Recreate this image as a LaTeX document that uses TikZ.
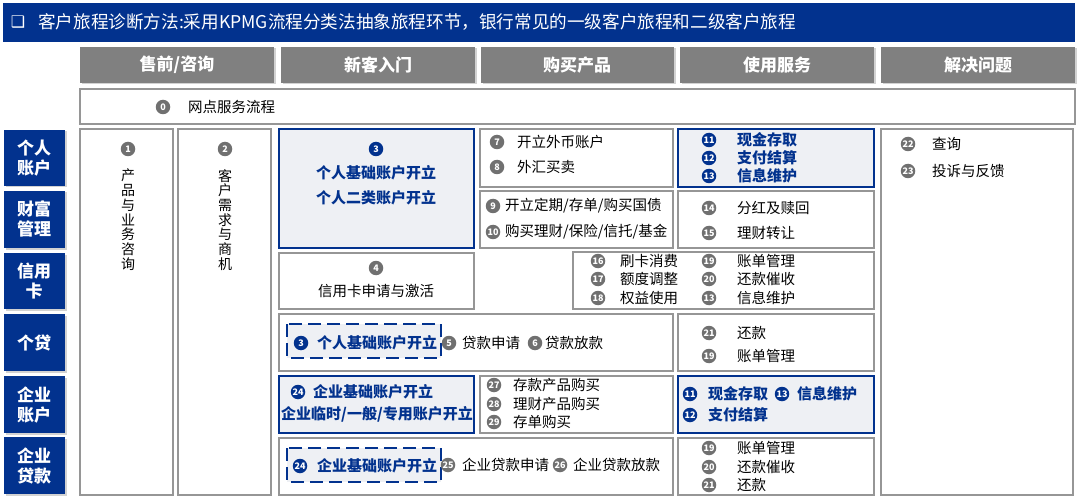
\documentclass[tikz,border=0pt]{standalone}
\usepackage{fontspec}
\setmainfont{Noto Sans CJK SC}
\newfontfamily\dejavu{DejaVu Sans}
\usetikzlibrary{shadows}
\definecolor{navy}{RGB}{2,50,142}
\definecolor{hdrgray}{RGB}{128,128,128}
\definecolor{bordgray}{RGB}{150,150,150}
\definecolor{cgray}{RGB}{112,112,112}
\definecolor{lightfill}{RGB}{238,240,244}
\newcommand{\cnode}[5]{\node[cnst, fill=#2] (#1) at (#4,#5) {#3};}
\begin{document}
\begin{tikzpicture}[x=1pt,y=-1pt,
  graybox/.style={draw=bordgray, line width=1.8pt, fill=white},
  navybox/.style={draw=navy, line width=2.6pt, fill=lightfill},
  dashbox/.style={draw=navy, line width=2.6pt, dash pattern=on 13pt off 6pt, fill=lightfill},
  hdrbox/.style={fill=hdrgray, drop shadow={shadow xshift=1.5pt, shadow yshift=-1.5pt, opacity=0.35}},
  lblbox/.style={fill=navy, drop shadow={shadow xshift=1.5pt, shadow yshift=-1.5pt, opacity=0.35}},
  hdrtxt/.style={text=white, font=\fontsize{17}{19}\selectfont\bfseries, inner sep=0pt},
  lbltxt/.style={text=white, font=\fontsize{17}{20}\selectfont\bfseries, align=center, inner sep=0pt},
  txt/.style={anchor=west, font=\fontsize{14.5}{16}\selectfont, inner sep=0pt},
  ctxt/.style={font=\fontsize{14.5}{16}\selectfont, inner sep=0pt},
  btxt/.style={anchor=west, text=navy, font=\fontsize{15}{17}\selectfont\bfseries, inner sep=0pt},
  cbtxt/.style={text=navy, font=\fontsize{15}{17}\selectfont\bfseries, inner sep=0pt},
  vtxt/.style={anchor=north, font=\fontsize{14}{14.7}\selectfont, align=center, inner sep=0pt},
  cnst/.style={circle, inner sep=0pt, minimum size=14.5pt, text=white, font=\fontsize{9}{9}\selectfont\bfseries}
]
\useasboundingbox (0,0) rectangle (1080,500);
\fill[white] (0,0) rectangle (1080,500);

% title bar
\fill[navy] (3,3) rectangle (1075,42);
\node[text=white, font=\dejavu\fontsize{16}{18}\selectfont, inner sep=0pt] (tbox) at (18,22) {❑};
\node[anchor=west, text=white, font=\fontsize{17.6}{19}\selectfont, inner sep=0pt] (title) at (38,22) {客户旅程诊断方法:采用KPMG流程分类法抽象旅程环节，银行常见的一级客户旅程和二级客户旅程};

% header row
\path[hdrbox] (80,47) rectangle (274,83);
\path[hdrbox] (281,47) rectangle (475,83);
\path[hdrbox] (481,47) rectangle (674,83);
\path[hdrbox] (680,47) rectangle (874,83);
\path[hdrbox] (881,47) rectangle (1075,83);
\node[hdrtxt] (h1) at (177,65) {售前/咨询};
\node[hdrtxt] (h2) at (378,65) {新客入门};
\node[hdrtxt] (h3) at (577,65) {购买产品};
\node[hdrtxt] (h4) at (777,65) {使用服务};
\node[hdrtxt] (h5) at (978,65) {解决问题};

% outlet row
\path[graybox] (80,89) rectangle (1075,124);
\cnode{c0}{cgray}{0}{163}{107}
\node[txt] (t0) at (188,107) {网点服务流程};

% left labels
\path[lblbox] (4,130) rectangle (65,186);
\path[lblbox] (4,191) rectangle (65,248);
\path[lblbox] (4,253) rectangle (65,309);
\path[lblbox] (4,314) rectangle (65,371);
\path[lblbox] (4,376) rectangle (65,433);
\path[lblbox] (4,437) rectangle (65,494);
\node[lbltxt] (l1) at (34,158) {个人\\账户};
\node[lbltxt] (l2) at (34,219) {财富\\管理};
\node[lbltxt] (l3) at (34,281) {信用\\卡};
\node[lbltxt] (l4) at (34,343) {个贷};
\node[lbltxt] (l5) at (34,405) {企业\\账户};
\node[lbltxt] (l6) at (34,466) {企业\\贷款};

% column 1 & 2
\path[graybox] (80,129) rectangle (173,495);
\path[graybox] (178,129) rectangle (271,495);
\cnode{c1}{cgray}{1}{128}{149}
\node[vtxt] (v1) at (128,169) {产\\品\\与\\业\\务\\咨\\询};
\cnode{c2}{cgray}{2}{225}{149}
\node[vtxt] (v2) at (225,169) {客\\户\\需\\求\\与\\商\\机};

% right column
\path[graybox] (881,129) rectangle (1073,495);
\cnode{c22}{cgray}{22}{908}{144}
\node[txt] (t22) at (932,144) {查询};
\cnode{c23}{cgray}{23}{908}{171}
\node[txt] (t23) at (932,171) {投诉与反馈};

% personal account row
\path[navybox] (279,129) rectangle (474,248);
\cnode{c3}{navy}{3}{376}{149}
\node[cbtxt] (t3a) at (376,173) {个人基础账户开立};
\node[cbtxt] (t3b) at (376,198) {个人二类账户开立};

\path[graybox] (480,129) rectangle (673,187);
\cnode{c7}{cgray}{7}{497}{142}
\node[txt] (t7) at (517,142) {开立外币账户};
\cnode{c8}{cgray}{8}{497}{167}
\node[txt] (t8) at (517,167) {外汇买卖};

\path[navybox] (678,129) rectangle (874,187);
\cnode{c11}{navy}{11}{709}{140}
\node[btxt] (t11) at (737,140) {现金存取};
\cnode{c12}{navy}{12}{709}{158}
\node[btxt] (t12) at (737,158) {支付结算};
\cnode{c13}{navy}{13}{709}{176}
\node[btxt] (t13) at (737,176) {信息维护};

% wealth row
\path[graybox] (480,191) rectangle (673,248);
\cnode{c9}{cgray}{9}{493}{206}
\node[txt] (t9) at (505,206) {开立定期/存单/购买国债};
\cnode{c10}{cgray}{10}{493}{232}
\node[txt] (t10) at (505,232) {购买理财/保险/信托/基金};

\path[graybox] (678,191) rectangle (874,248);
\cnode{c14}{cgray}{14}{709}{208}
\node[txt] (t14) at (737,208) {分红及赎回};
\cnode{c15}{cgray}{15}{709}{233}
\node[txt] (t15) at (737,233) {理财转让};

% credit card row
\path[graybox] (279,253) rectangle (474,309);
\cnode{c4}{cgray}{4}{376}{268}
\node[ctxt] (t4) at (376,291) {信用卡申请与激活};

\path[graybox] (573,252) rectangle (874,309);
\cnode{c16}{cgray}{16}{598}{261}
\node[txt] (t16) at (620,261) {刷卡消费};
\cnode{c17}{cgray}{17}{598}{279}
\node[txt] (t17) at (620,279) {额度调整};
\cnode{c18}{cgray}{18}{598}{298}
\node[txt] (t18) at (620,298) {权益使用};
\cnode{c19a}{cgray}{19}{709}{261}
\node[txt] (t19a) at (737,261) {账单管理};
\cnode{c20a}{cgray}{20}{709}{279}
\node[txt] (t20a) at (737,279) {还款催收};
\cnode{c13b}{cgray}{13}{709}{298}
\node[txt] (t13b) at (737,298) {信息维护};

% personal loan row
\path[graybox] (279,314) rectangle (673,371);
\path[dashbox] (287,324) rectangle (441,358);
\cnode{c3b}{navy}{3}{301}{343}
\node[btxt] (t3c) at (317,343) {个人基础账户开立};
\cnode{c5}{cgray}{5}{449}{343}
\node[txt] (t5) at (462,343) {贷款申请};
\cnode{c6}{cgray}{6}{535}{343}
\node[txt] (t6) at (545,343) {贷款放款};

\path[graybox] (678,314) rectangle (874,371);
\cnode{c21a}{cgray}{21}{709}{333}
\node[txt] (t21a) at (737,333) {还款};
\cnode{c19b}{cgray}{19}{709}{356}
\node[txt] (t19b) at (737,356) {账单管理};

% corporate account row
\path[navybox] (279,376) rectangle (474,433);
\cnode{c24}{navy}{24}{298}{392}
\node[btxt] (t24) at (313,392) {企业基础账户开立};
\node[cbtxt] (t24b) at (377,414) {企业临时/一般/专用账户开立};

\path[graybox] (480,376) rectangle (673,433);
\cnode{c27}{cgray}{27}{494}{385}
\node[txt] (t27) at (513,385) {存款产品购买};
\cnode{c28}{cgray}{28}{494}{404}
\node[txt] (t28) at (513,404) {理财产品购买};
\cnode{c29}{cgray}{29}{494}{422}
\node[txt] (t29) at (513,422) {存单购买};

\path[navybox] (678,376) rectangle (874,433);
\cnode{c11b}{navy}{11}{690}{394}
\node[btxt] (t11b) at (708,394) {现金存取};
\cnode{c13c}{navy}{13}{782}{394}
\node[btxt] (t13c) at (797,394) {信息维护};
\cnode{c12b}{navy}{12}{690}{415}
\node[btxt] (t12b) at (708,415) {支付结算};

% corporate loan row
\path[graybox] (279,438) rectangle (673,495);
\path[dashbox] (287,448) rectangle (441,482);
\cnode{c24b}{navy}{24}{300}{466}
\node[btxt] (t24c) at (317,466) {企业基础账户开立};
\cnode{c25}{cgray}{25}{448}{465}
\node[txt] (t25) at (462,465) {企业贷款申请};
\cnode{c26}{cgray}{26}{560}{465}
\node[txt] (t26) at (573,465) {企业贷款放款};

\path[graybox] (678,438) rectangle (874,495);
\cnode{c19c}{cgray}{19}{709}{448}
\node[txt] (t19c) at (737,448) {账单管理};
\cnode{c20c}{cgray}{20}{709}{467}
\node[txt] (t20c) at (737,467) {还款催收};
\cnode{c21c}{cgray}{21}{709}{485}
\node[txt] (t21c) at (737,485) {还款};
\end{tikzpicture}
\end{document}
